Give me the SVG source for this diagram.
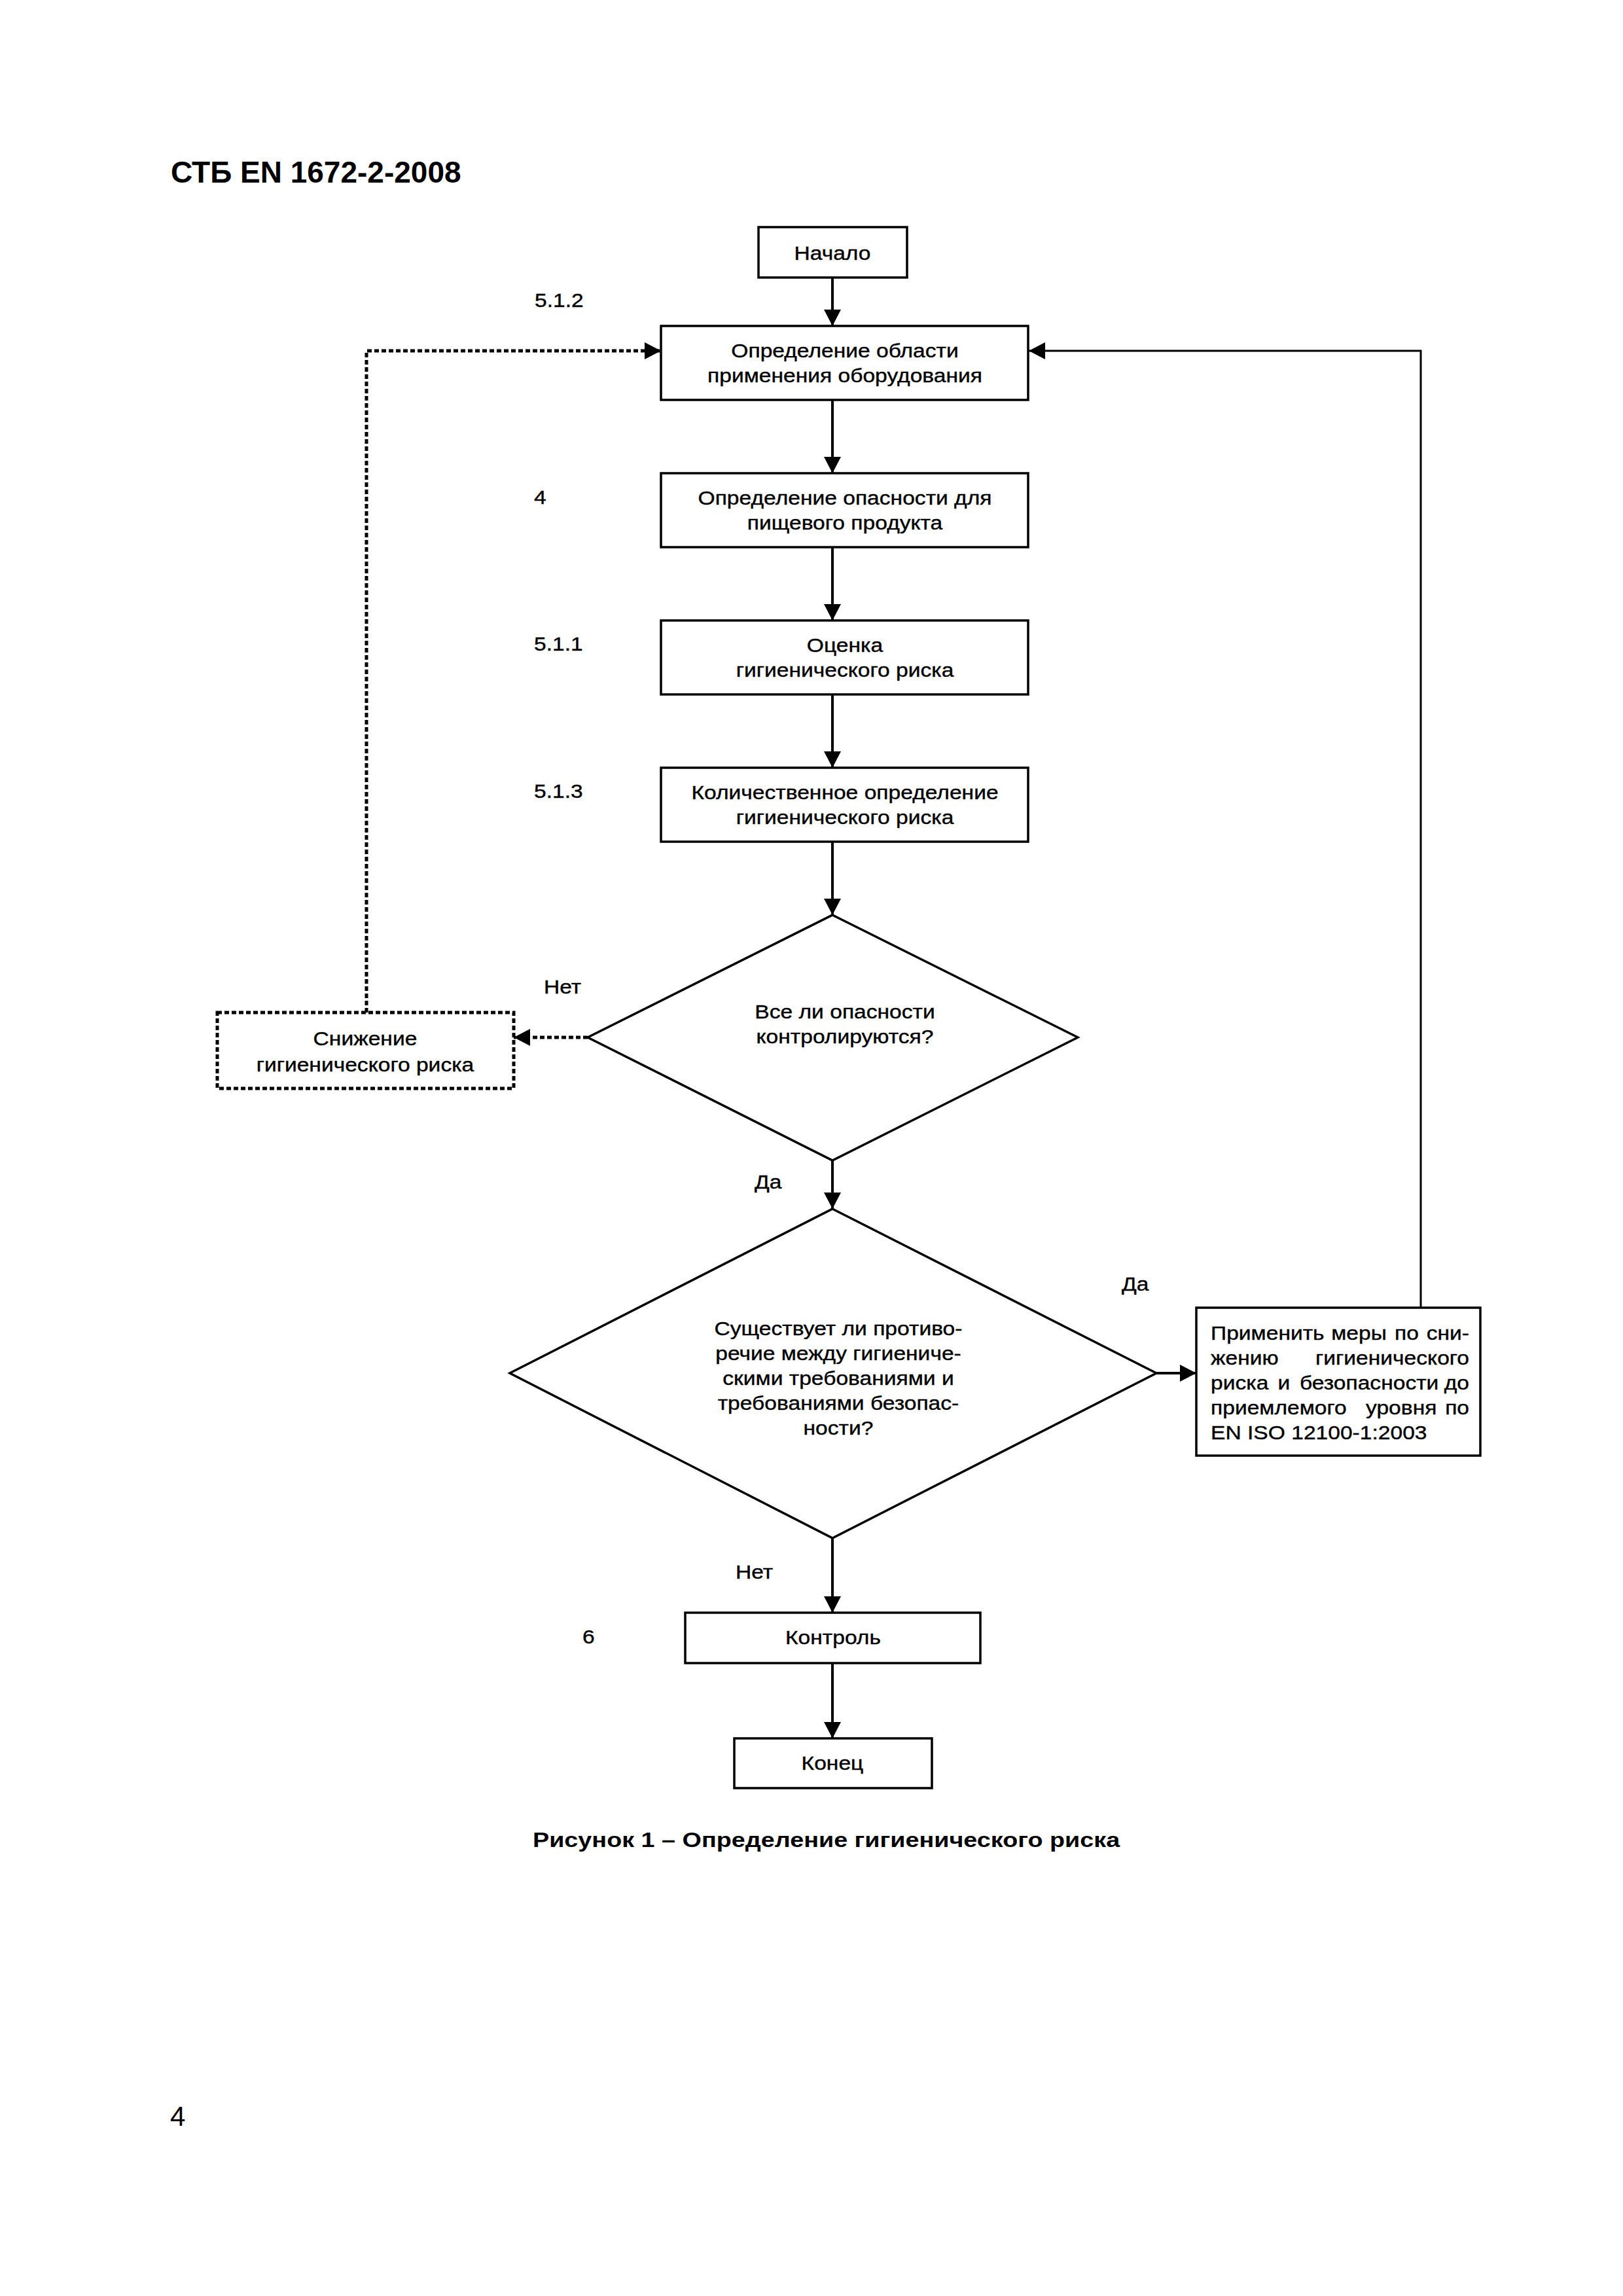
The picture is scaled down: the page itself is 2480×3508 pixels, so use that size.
<svg xmlns="http://www.w3.org/2000/svg" width="2480" height="3508" viewBox="0 0 2480 3508">
<style>
.bg{fill:#fff}
.box{fill:#fff;stroke:#000;stroke-width:3.5}
.dbox{fill:#fff;stroke:#000;stroke-width:5;stroke-dasharray:7 4}
.dia{fill:#fff;stroke:#000;stroke-width:3.5}
.con{fill:none;stroke:#000;stroke-width:4}
.thin{fill:none;stroke:#000;stroke-width:3}
.dot{fill:none;stroke:#000;stroke-width:5;stroke-dasharray:7 4}
.t{font-family:"Liberation Sans",Arial,sans-serif;font-size:30px;fill:#000;stroke:#000;stroke-width:0.4}
.c{text-anchor:middle}
.e{text-anchor:end}
.title{font-family:"Liberation Sans",Arial,sans-serif;font-size:46px;font-weight:bold;fill:#000}
.cap{font-family:"Liberation Sans",Arial,sans-serif;font-size:31px;font-weight:bold;fill:#000}
.pg{font-family:"Liberation Sans",Arial,sans-serif;font-size:42px;fill:#000}
</style>
<defs>
<marker id="ah" markerUnits="userSpaceOnUse" markerWidth="25" markerHeight="26" refX="25" refY="13" orient="auto">
<path d="M0,0 L25,13 L0,26 z" fill="#000"/>
</marker>
</defs>
<rect class="bg" x="0" y="0" width="2480" height="3508"/>
<text class="title" x="261" y="279">СТБ EN 1672-2-2008</text>

<g id="connectors">
<line class="con" x1="1272" y1="424" x2="1272" y2="498" marker-end="url(#ah)"/>
<line class="con" x1="1272" y1="611" x2="1272" y2="723" marker-end="url(#ah)"/>
<line class="con" x1="1272" y1="836" x2="1272" y2="948" marker-end="url(#ah)"/>
<line class="con" x1="1272" y1="1061" x2="1272" y2="1173" marker-end="url(#ah)"/>
<line class="con" x1="1272" y1="1286" x2="1272" y2="1398" marker-end="url(#ah)"/>
<line class="con" x1="1272" y1="1773" x2="1272" y2="1847" marker-end="url(#ah)"/>
<line class="con" x1="1272" y1="2350" x2="1272" y2="2464" marker-end="url(#ah)"/>
<line class="con" x1="1272" y1="2541" x2="1272" y2="2656" marker-end="url(#ah)"/>
<line class="con" x1="1767" y1="2098" x2="1828" y2="2098" stroke-width="4.5" marker-end="url(#ah)"/>
<polyline class="thin" points="2171,1998 2171,536 1572,536" marker-end="url(#ah)"/>
<line class="dot" x1="898" y1="1585" x2="785" y2="1585" marker-end="url(#ah)"/>
<polyline class="dot" points="560,1547 560,536 1010,536" marker-end="url(#ah)"/>
</g>

<g id="labels">
<g transform="scale(1.12 1)">
<text class="t" x="729.5" y="469">5.1.2</text>
<text class="t" x="728.6" y="770">4</text>
<text class="t" x="728.6" y="994">5.1.1</text>
<text class="t" x="728.6" y="1219">5.1.3</text>
<text class="t" x="794.6" y="2511">6</text>
<text class="t" x="742" y="1518">Нет</text>
<text class="t" x="1029.5" y="1816">Да</text>
<text class="t" x="1530.4" y="1972">Да</text>
<text class="t" x="1003.6" y="2412">Нет</text>
</g>
</g>

<g id="start">
<rect class="box" x="1159" y="347" width="227" height="77"/>
<g transform="scale(1.12 1)"><text class="t c" x="1135.7" y="397">Начало</text></g>
</g>

<g id="scope">
<rect class="box" x="1010" y="498" width="561" height="113"/>
<g transform="scale(1.12 1)">
<text class="t c" x="1152.7" y="546">Определение области</text>
<text class="t c" x="1152.7" y="584">применения оборудования</text>
</g>
</g>

<g id="hazard">
<rect class="box" x="1010" y="723" width="561" height="113"/>
<g transform="scale(1.12 1)">
<text class="t c" x="1152.7" y="771">Определение опасности для</text>
<text class="t c" x="1152.7" y="809">пищевого продукта</text>
</g>
</g>

<g id="assess">
<rect class="box" x="1010" y="948" width="561" height="113"/>
<g transform="scale(1.12 1)">
<text class="t c" x="1152.7" y="996">Оценка</text>
<text class="t c" x="1152.7" y="1034">гигиенического риска</text>
</g>
</g>

<g id="quantify">
<rect class="box" x="1010" y="1173" width="561" height="113"/>
<g transform="scale(1.12 1)">
<text class="t c" x="1152.7" y="1221">Количественное определение</text>
<text class="t c" x="1152.7" y="1259">гигиенического риска</text>
</g>
</g>

<g id="decision1">
<polygon class="dia" points="1272,1398 1647,1585 1272,1773 898,1585"/>
<g transform="scale(1.12 1)">
<text class="t c" x="1152.7" y="1556">Все ли опасности</text>
<text class="t c" x="1152.7" y="1594">контролируются?</text>
</g>
</g>

<g id="reduce">
<rect class="dbox" x="332" y="1547" width="453" height="116"/>
<g transform="scale(1.12 1)">
<text class="t c" x="498.2" y="1597">Снижение</text>
<text class="t c" x="498.2" y="1637">гигиенического риска</text>
</g>
</g>

<g id="decision2">
<polygon class="dia" points="1272,1847 1767,2098 1272,2350 779,2098"/>
<g transform="scale(1.12 1)">
<text class="t c" x="1143.75" y="2040">Существует ли противо-</text>
<text class="t c" x="1143.75" y="2078">речие между гигиениче-</text>
<text class="t c" x="1143.75" y="2116">скими требованиями и</text>
<text class="t c" x="1143.75" y="2154">требованиями безопас-</text>
<text class="t c" x="1143.75" y="2192">ности?</text>
</g>
</g>

<g id="measures">
<rect class="box" x="1828" y="1998" width="434" height="226"/>
<g transform="scale(1.12 1)">
<text class="t" x="1651.8" y="2047">Применить</text>
<text class="t" x="1816.3" y="2047">меры</text>
<text class="t" x="1902.7" y="2047">по</text>
<text class="t e" x="2004.5" y="2047">сни-</text>
<text class="t" x="1651.8" y="2085">жению</text>
<text class="t e" x="2004.5" y="2085">гигиенического</text>
<text class="t" x="1651.8" y="2123">риска</text>
<text class="t" x="1743.3" y="2123">и</text>
<text class="t" x="1773.2" y="2123">безопасности</text>
<text class="t e" x="2004.5" y="2123">до</text>
<text class="t" x="1651.8" y="2161">приемлемого</text>
<text class="t" x="1863.4" y="2161">уровня</text>
<text class="t e" x="2004.5" y="2161">по</text>
<text class="t" x="1651.8" y="2199">EN ISO 12100-1:2003</text>
</g>
</g>

<g id="control">
<rect class="box" x="1047" y="2464" width="451" height="77"/>
<g transform="scale(1.12 1)"><text class="t c" x="1136.6" y="2512">Контроль</text></g>
</g>

<g id="end">
<rect class="box" x="1122" y="2656" width="302" height="76"/>
<g transform="scale(1.12 1)"><text class="t c" x="1135.7" y="2704">Конец</text></g>
</g>

<g transform="scale(1.218 1)"><text class="cap" x="668.3" y="2822">Рисунок 1 – Определение гигиенического риска</text></g>
<text class="pg" x="260" y="3248">4</text>
</svg>
